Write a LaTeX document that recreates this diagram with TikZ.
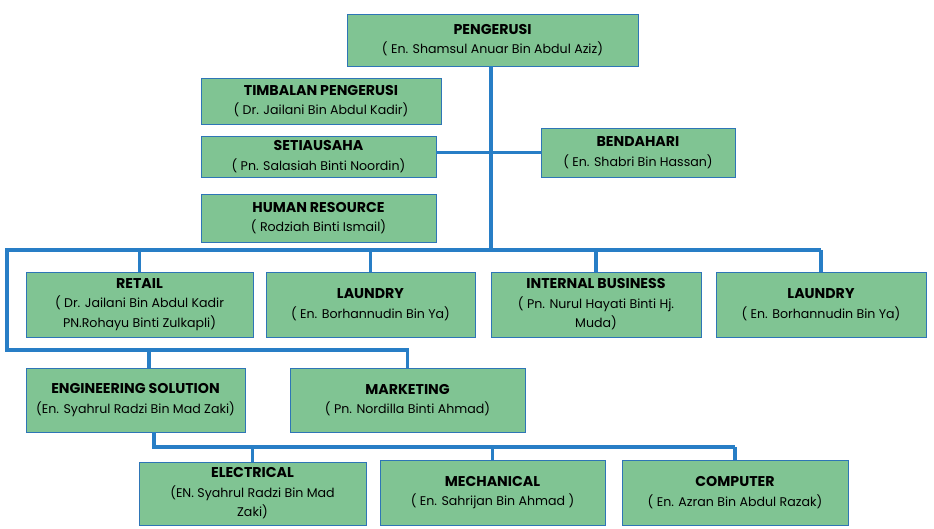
\documentclass[tikz,border=0pt]{standalone}
\usepackage{fontspec}
\setmainfont{Poppins}
\usetikzlibrary{positioning}

\definecolor{boxgreen}{RGB}{128,196,147}
\definecolor{boxedge}{RGB}{46,117,182}
\definecolor{linkblue}{RGB}{40,126,198}

\tikzset{
  unitbox/.style={draw=boxedge, line width=0.9pt, fill=boxgreen, align=center,
    inner sep=2pt, font=\fontsize{12.6}{19.5}\selectfont},
  link/.style={draw=linkblue, line width=3.2pt}
}
\newcommand{\post}[2]{{\fontsize{14.2}{19.5}\selectfont\bfseries #1}\\#2}

\begin{document}
\begin{tikzpicture}[x=1pt,y=-1pt]
	\useasboundingbox (0,0) rectangle (934,529);

	% Pengerusi dan ahli jawatankuasa
	\node[unitbox, minimum width=291pt, minimum height=52pt] (peng) at (492.5,40) {\post{PENGERUSI}{( En. Shamsul Anuar Bin Abdul Aziz)}};
	\node[unitbox, minimum width=240pt, minimum height=46pt] (timb) at (321,101) {\post{TIMBALAN PENGERUSI}{( Dr. Jailani Bin Abdul Kadir)}};
	\node[unitbox, minimum width=235pt, minimum height=41pt] (setia) at (318.5,156.5) {\post{SETIAUSAHA}{( Pn. Salasiah Binti Noordin)}};
	\node[unitbox, minimum width=235pt, minimum height=48pt] (hr) at (318.5,218) {\post{HUMAN RESOURCE}{( Rodziah Binti Ismail)}};
	\node[unitbox, minimum width=194pt, minimum height=49pt] (bend) at (638,152.5) {\post{BENDAHARI}{( En. Shabri Bin Hassan)}};

	% Unit perniagaan
	\node[unitbox, minimum width=227pt, minimum height=65pt] (retail) at (139.5,304.5) {\post{RETAIL}{( Dr. Jailani Bin Abdul Kadir\\PN.Rohayu Binti Zulkapli)}};
	\node[unitbox, minimum width=209pt, minimum height=65pt] (laundA) at (370.5,304.5) {\post{LAUNDRY}{( En. Borhannudin Bin Ya)}};
	\node[unitbox, minimum width=210pt, minimum height=65pt] (intbus) at (596,304.5) {\post{INTERNAL BUSINESS}{( Pn. Nurul Hayati Binti Hj.\\Muda)}};
	\node[unitbox, minimum width=210pt, minimum height=65pt] (laundB) at (821,304.5) {\post{LAUNDRY}{( En. Borhannudin Bin Ya)}};

	\node[unitbox, minimum width=219pt, minimum height=64pt] (eng) at (135.5,400) {\post{ENGINEERING SOLUTION}{(En. Syahrul Radzi Bin Mad Zaki)}};
	\node[unitbox, minimum width=235pt, minimum height=64pt] (mkt) at (407.5,400) {\post{MARKETING}{( Pn. Nordilla Binti Ahmad)}};

	% Bahagian kejuruteraan
	\node[unitbox, minimum width=227pt, minimum height=63pt] (elec) at (252.5,493.5) {\post{ELECTRICAL}{(EN. Syahrul Radzi Bin Mad\\Zaki)}};
	\node[unitbox, minimum width=225pt, minimum height=65pt] (mech) at (492.5,492.5) {\post{MECHANICAL}{( En. Sahrijan Bin Ahmad )}};
	\node[unitbox, minimum width=226pt, minimum height=65pt] (comp) at (735,492.5) {\post{COMPUTER}{( En. Azran Bin Abdul Razak)}};

	% Penyambung
	\coordinate (bus) at (491,250);
	\coordinate (busL) at (7,250);
	\coordinate (busR) at (821,250);
	\coordinate (busB) at (7,350);
	\coordinate (engtap) at (149,350);
	\coordinate (subtop) at (154,447);

	\draw[link] (peng.south -| bus) -- (bus);
	\draw[link] (setia.east |- bend.west) -- (bend.west);
	\draw[link] (busR) -- (busL) -- (busB) -- (busB -| mkt.north) -- (mkt.north);
	\foreach \n in {retail,laundA,intbus,laundB}
		\draw[link] (\n.north |- bus) -- (\n.north);
	\draw[link] (engtap) -- (engtap |- eng.north);
	\draw[link] (subtop |- eng.south) -- (subtop) -- (subtop -| comp.north);
	\foreach \n in {elec,mech,comp}
		\draw[link] (\n.north |- subtop) -- (\n.north);

\end{tikzpicture}
\end{document}
